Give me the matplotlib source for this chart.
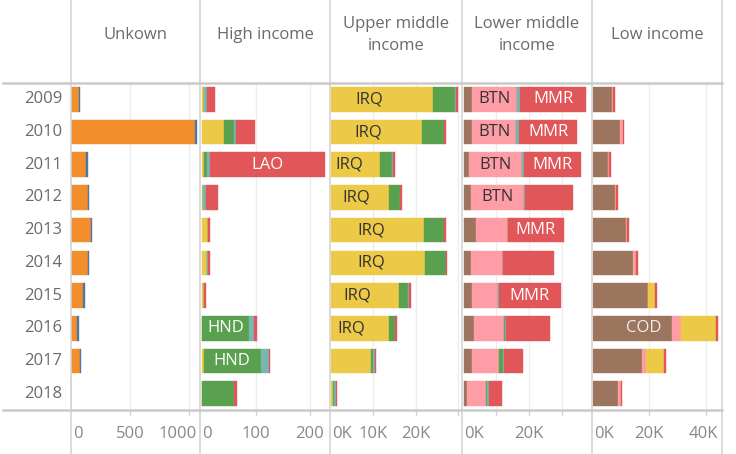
import matplotlib

matplotlib.use('Agg')

import matplotlib.pyplot as plt
from matplotlib.lines import Line2D

plt.rcParams['font.family'] = ['Open Sans', 'DejaVu Sans']

years = [2009, 2010, 2011, 2012, 2013, 2014, 2015, 2016, 2017, 2018]

# Tableau 10 colours, one per region
c_ssa = '#9C755F'    # Sub-Saharan Africa
c_sas = '#FF9DA7'    # South Asia
c_glob = '#F28E2B'   # Global
c_other = '#4E79A7'  # Other / not classified
c_mena = '#EDC948'   # Middle East & North Africa
c_lac = '#59A14F'    # Latin America & Caribbean
c_eca = '#76B7B2'    # Europe & Central Asia
c_eap = '#E15759'    # East Asia & Pacific

# Unkown (units)
unk_glob = [68, 1053, 127, 144, 170, 144, 105, 48, 76, 0]
unk_other = [8, 15, 14, 12, 11, 12, 11, 17, 12, 0]

# High income (units)
high_mena = [4, 42, 4.5, 2.8, 12.6, 10, 3.5, 1.5, 4, 0]
high_lac = [0, 18.5, 5, 0, 0, 0, 0, 86.5, 105, 60]
high_eca = [6, 3.7, 6.5, 5.5, 0, 2, 0, 8, 15, 0]
high_eap = [14, 35, 211, 22, 3, 3.5, 4, 7, 1.5, 6]

# Upper middle income (K)
upmid_irq = [17.8, 17.6, 8.7, 11.7, 19.0, 19.0, 12.5, 9.6, 3.0, 0.1]
upmid_mena = [6.4, 3.9, 2.9, 2.1, 3.1, 3.3, 3.5, 4.2, 6.5, 0.2]
upmid_lac = [5.2, 5.2, 2.7, 2.5, 4.6, 4.9, 2.1, 1.3, 0.4, 0.3]
upmid_eca = [0.2, 0, 0.4, 0, 0, 0, 0.3, 0, 0.5, 0.5]
upmid_eap = [0.4, 0.4, 0.3, 0.4, 0.4, 0.3, 0.4, 0.5, 0.3, 0.3]

# Lower middle income (K)
lowmid_ssa = [2.5, 2.7, 1.7, 2.4, 3.7, 2.4, 2.7, 3.1, 2.7, 1.1]
lowmid_btn = [13.9, 13.4, 16.1, 16.1, 9.8, 9.5, 7.9, 9.2, 8.2, 5.7]
lowmid_lac = [0, 0, 0, 0, 0, 0, 0, 0.3, 1.1, 0.4]
lowmid_eca = [0.9, 0.9, 0.6, 0.3, 0, 0.3, 0.3, 0.5, 0.4, 0.5]
lowmid_mmr = [20.3, 17.8, 17.5, 14.7, 17.2, 15.5, 18.8, 13.2, 5.9, 4.0]

# Low income (K)
low_ssa = [6.9, 9.7, 5.4, 8.0, 11.7, 14.4, 19.4, 8.3, 17.3, 9.0]
low_cod = [0, 0, 0, 0, 0, 0, 0, 19.8, 0, 0]
low_sas = [0.4, 0.9, 0.4, 0.4, 0.4, 1.0, 0.3, 3.2, 1.6, 0.9]
low_mena = [0, 0, 0, 0, 0, 0, 2.4, 12.3, 6.4, 0]
low_eap = [0.7, 0.6, 0.7, 0.5, 0.8, 0.8, 0.5, 0.6, 0.6, 0.6]

# years where tableau shows the country label
irq_years = [2009, 2010, 2011, 2012, 2013, 2014, 2015, 2016]
btn_years = [2009, 2010, 2011, 2012]
mmr_years = [2009, 2010, 2011, 2013, 2015]
lao_years = [2011]
hnd_years = [2016, 2017]
cod_years = [2016]

K = 1000.0
dark = '#333333'
light = 'white'

# (title, xlim, gridlines, tick labels, segments)
# segment = (values, colour, label, label years, label colour)
panels = [
    ('Unkown', (0, 1096), [500, 1000], {0: '0', 500: '500', 1000: '1000'},
     [(unk_glob, c_glob, None, [], None),
      (unk_other, c_other, None, [], None)]),
    ('High income', (-3, 237), [100, 200], {0: '0', 100: '100', 200: '200'},
     [(high_mena, c_mena, None, [], None),
      (high_lac, c_lac, 'HND', hnd_years, light),
      (high_eca, c_eca, None, [], None),
      (high_eap, c_eap, 'LAO', lao_years, light)]),
    ('Upper middle\nincome', (-0.3 * K, 31.0 * K), [10 * K, 20 * K, 30 * K],
     {0: '0K', 10 * K: '10K', 20 * K: '20K'},
     [([v * K for v in upmid_irq], c_mena, 'IRQ', irq_years, dark),
      ([v * K for v in upmid_mena], c_mena, None, [], None),
      ([v * K for v in upmid_lac], c_lac, None, [], None),
      ([v * K for v in upmid_eca], c_eca, None, [], None),
      ([v * K for v in upmid_eap], c_eap, None, [], None)]),
    ('Lower middle\nincome', (-0.5 * K, 39.3 * K), [10 * K, 20 * K, 30 * K],
     {0: '0K', 20 * K: '20K'},
     [([v * K for v in lowmid_ssa], c_ssa, None, [], None),
      ([v * K for v in lowmid_btn], c_sas, 'BTN', btn_years, dark),
      ([v * K for v in lowmid_lac], c_lac, None, [], None),
      ([v * K for v in lowmid_eca], c_eca, None, [], None),
      ([v * K for v in lowmid_mmr], c_eap, 'MMR', mmr_years, light)]),
    ('Low income', (-0.2 * K, 45.7 * K), [20 * K, 40 * K],
     {0: '0K', 20 * K: '20K', 40 * K: '40K'},
     [([v * K for v in low_ssa], c_ssa, None, [], None),
      ([v * K for v in low_cod], c_ssa, 'COD', cod_years, '#f2ebe6'),
      ([v * K for v in low_sas], c_sas, None, [], None),
      ([v * K for v in low_mena], c_mena, None, [], None),
      ([v * K for v in low_eap], c_eap, None, [], None)]),
]

W, H = 736, 454
edges = [71, 200, 330, 462, 592, 722]
top_px, bottom_px = 83, 410

fig = plt.figure(figsize=(W / 100.0, H / 100.0), dpi=100)
fig.patch.set_facecolor('white')

txt_grey = '#6a6a6a'
tick_grey = '#888888'
fs = 12

axes = []
tick_texts = []
for p, (title, xlim, grid, ticks, segments) in enumerate(panels):
    x0, x1 = edges[p], edges[p + 1]
    ax = fig.add_axes([x0 / W, 1 - bottom_px / H, (x1 - x0) / W, (bottom_px - top_px) / H])
    axes.append(ax)
    ax.set_xlim(*xlim)
    ax.set_ylim(len(years) - 0.5, -0.5)
    for s in ax.spines.values():
        s.set_visible(False)
    ax.set_xticks([])
    ax.set_yticks([])
    ax.patch.set_alpha(0)
    for g in grid:
        ax.axvline(g, color='#ededed', lw=1, zorder=0)
        ax.plot([g, g], [0, -0.016], transform=ax.get_xaxis_transform(),
                color='#d6d6d6', lw=1, clip_on=False)

    left = [0.0] * len(years)
    for values, color, label, label_years, label_color in segments:
        ax.barh(range(len(years)), values, left=left, height=0.75, color=color,
                edgecolor=color, linewidth=0.3, zorder=2)
        for i, y in enumerate(years):
            if label and y in label_years:
                ax.text(left[i] + values[i] / 2.0, i, label, ha='center', va='center',
                        fontsize=fs, color=label_color, zorder=3)
        left = [a + b for a, b in zip(left, values)]

    fig.text((x0 + x1) / 2.0 / W, 1 - 35.0 / H, title, ha='center', va='center',
             fontsize=fs, color=txt_grey, linespacing=1.55)

    for v, lab in ticks.items():
        t = fig.text(0, 1 - 434.0 / H, lab, ha='center', va='center', fontsize=fs, color=tick_grey)
        tick_texts.append((ax, v, t, x0, x1))

for i, y in enumerate(years):
    axes[0].text(-9.0 / 129, i, str(y), transform=axes[0].get_yaxis_transform(),
                 ha='right', va='center', fontsize=fs, color=txt_grey)

# frame lines: panel separators, header line, axis line
for x in edges:
    fig.add_artist(Line2D([x / W, x / W], [0, 1], color='#d4d4d4', lw=1.2))
for y in (top_px, bottom_px):
    fig.add_artist(Line2D([3.0 / W, 722.0 / W], [1 - y / H, 1 - y / H], color='#cacaca', lw=1.8))

# keep tick labels inside their panel like tableau does
fig.canvas.draw()
renderer = fig.canvas.get_renderer()
for ax, v, t, x0, x1 in tick_texts:
    w = t.get_window_extent(renderer).width
    cx = ax.transData.transform((v, 0))[0]
    cx = max(cx, x0 + 2.5 + w / 2.0)
    cx = min(cx, x1 - 3.5 - w / 2.0)
    t.set_x(cx / W)

fig.savefig('out.png', dpi=100, facecolor='white')
